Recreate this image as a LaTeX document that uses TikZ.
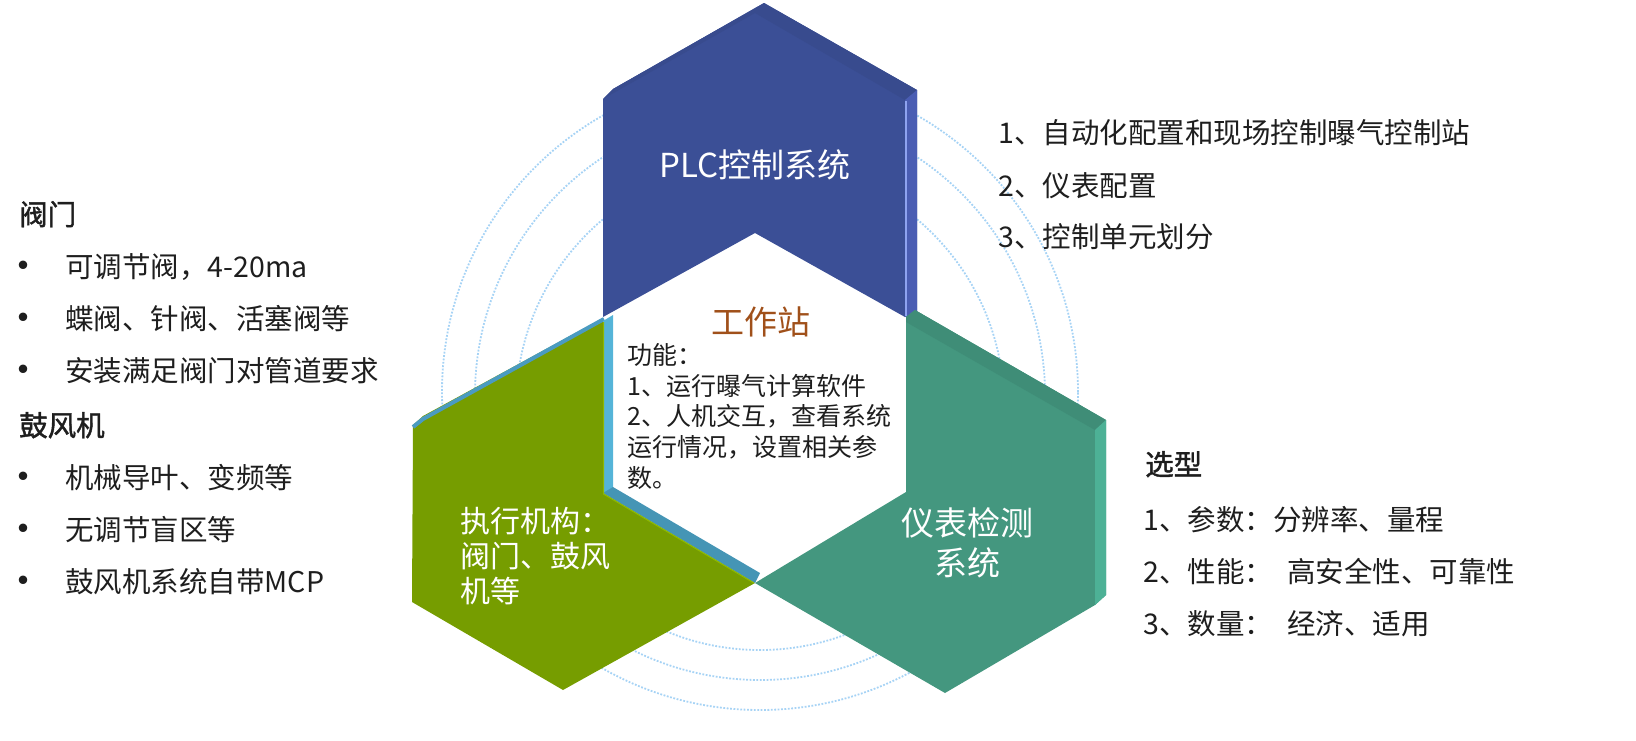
\documentclass[tikz,border=0pt]{standalone}
\usepackage{fontspec}
\setmainfont{Noto Sans CJK SC}
\newfontfamily\titlefont{Noto Sans CJK SC}[FakeBold=1.5]
\definecolor{ringblue}{HTML}{A6D3F5}
\definecolor{blueface}{HTML}{3B4F96}
\definecolor{bluetop}{HTML}{384B8E}
\definecolor{blueside}{HTML}{4A5DB3}
\definecolor{bluehi}{HTML}{8EA3F0}
\definecolor{greenface}{HTML}{769D00}
\definecolor{greenline}{HTML}{8DB800}
\definecolor{stripa}{HTML}{4A9BC1}
\definecolor{stripb}{HTML}{55B4D8}
\definecolor{stripc}{HTML}{4595B5}
\definecolor{tealface}{HTML}{44977F}
\definecolor{tealtop}{HTML}{3F8D77}
\definecolor{tealside}{HTML}{4DB196}
\definecolor{brown}{HTML}{A0501A}
\definecolor{txt}{HTML}{1E1E1E}
\begin{document}
\begin{tikzpicture}[x=1pt,y=-1pt,
  ring/.style={draw=ringblue, line width=1.8pt, dash pattern=on 1.8pt off 1.6pt},
  side/.style={anchor=base west, inner sep=0pt, text=txt, font=\fontsize{28.5}{34}\selectfont},
  sidetitle/.style={anchor=base west, inner sep=0pt, text=txt, font=\titlefont\fontsize{28.5}{34}\selectfont},
  bul/.style={anchor=base, inner sep=0pt, text=txt, font=\fontsize{40}{44}\selectfont},
  desc/.style={anchor=base west, inner sep=0pt, text=txt, font=\fontsize{25}{30}\selectfont},
  hexlabel/.style={anchor=base, inner sep=0pt, text=white, font=\fontsize{33}{40}\selectfont},
  actlabel/.style={anchor=base west, inner sep=0pt, text=white, font=\fontsize{30}{35}\selectfont}
]
\useasboundingbox (0,0) rectangle (1636,740);

% dotted rings
\draw[ring] (760,406) circle[radius=244pt];
\draw[ring] (760,395) circle[radius=285pt];
\draw[ring] (760,392) circle[radius=318pt];

% green (left) hexagon
\fill[greenface] (603,318) -- (423,416) -- (413,425) -- (412,602) -- (563,690) -- (755,583) -- (603,493) -- cycle;
\draw[stripa, line width=4pt] (413,427) -- (423,419) -- (604,319);
\fill[stripb] (603,321) -- (613,315) -- (613,488) -- (603,494) -- cycle;
\fill[stripc] (603,493) -- (613,487) -- (760,573) -- (755,583) -- cycle;
\draw[greenline, line width=1.2pt] (603.6,322) -- (603.6,494) -- (754,583);

% blue (top) hexagon
\fill[blueface] (764,3) -- (917,90) -- (917,313) -- (905,317) -- (755,233) -- (603,317) -- (603,99) -- (613,89) -- cycle;
\fill[bluetop] (764,3) -- (917,90) -- (905,100) -- (755,13) -- (603,99) -- (613,89) -- cycle;
\fill[blueside] (905,100) -- (917,90) -- (917,313) -- (905,317) -- cycle;
\draw[bluehi, line width=2pt] (906,101) -- (906,316);

% teal (right) hexagon
\fill[tealface] (906,317) -- (915,310) -- (1106,420) -- (1106,595) -- (1095,605) -- (945,693) -- (755,583) -- (906,492) -- cycle;
\fill[tealtop] (906,317) -- (915,310) -- (1106,420) -- (1095,430) -- (906,322) -- cycle;
\fill[tealside] (1095,430) -- (1106,420) -- (1106,595) -- (1095,605) -- cycle;

% labels in hexagons
\node[hexlabel] (plc) at (755,177.5) {PLC控制系统};
\node[actlabel] (act1) at (460,532.5) {执行机构：};
\node[actlabel] (act2) at (460,567.5) {阀门、鼓风};
\node[actlabel] (act3) at (460,602.5) {机等};
\node[hexlabel] (ins1) at (967,535.5) {仪表检测};
\node[hexlabel] (ins2) at (967,575.5) {系统};

% centre: workstation
\node[anchor=base, inner sep=0pt, text=brown, font=\fontsize{33}{40}\selectfont] (ws) at (761,334) {工作站};
\node[desc] (d0) at (627,364.5) {功能：};
\node[desc] (d1) at (627,395) {1、运行曝气计算软件};
\node[desc] (d2) at (627,425.5) {2、人机交互，查看系统};
\node[desc] (d3) at (627,456.5) {运行情况，设置相关参};
\node[desc] (d4) at (627,487.5) {数。};

% left list
\node[sidetitle] (lt1) at (19,225) {阀门};
\node[bul] (b1) at (23,280.7) {•};
\node[side] (l1) at (65,277) {可调节阀，4-20ma};
\node[bul] (b2) at (23,332.7) {•};
\node[side] (l2) at (65,329) {蝶阀、针阀、活塞阀等};
\node[bul] (b3) at (23,384.7) {•};
\node[side] (l3) at (65,381) {安装满足阀门对管道要求};
\node[sidetitle] (lt2) at (19,436) {鼓风机};
\node[bul] (b4) at (23,491.7) {•};
\node[side] (l4) at (65,488) {机械导叶、变频等};
\node[bul] (b5) at (23,543.7) {•};
\node[side] (l5) at (65,540) {无调节盲区等};
\node[bul] (b6) at (23,595.7) {•};
\node[side] (l6) at (65,592) {鼓风机系统自带MCP};

% right top list
\node[side] (r1) at (998,143) {1、自动化配置和现场控制曝气控制站};
\node[side] (r2) at (998,196) {2、仪表配置};
\node[side] (r3) at (998,247) {3、控制单元划分};

% right bottom list
\node[sidetitle] (rt) at (1145,475) {选型};
\node[side] (s1) at (1143,530) {1、参数：分辨率、量程};
\node[side] (s2) at (1143,582) {2、性能：\hspace{0.5em}高安全性、可靠性};
\node[side] (s3) at (1143,634) {3、数量：\hspace{0.5em}经济、适用};
\end{tikzpicture}
\end{document}
